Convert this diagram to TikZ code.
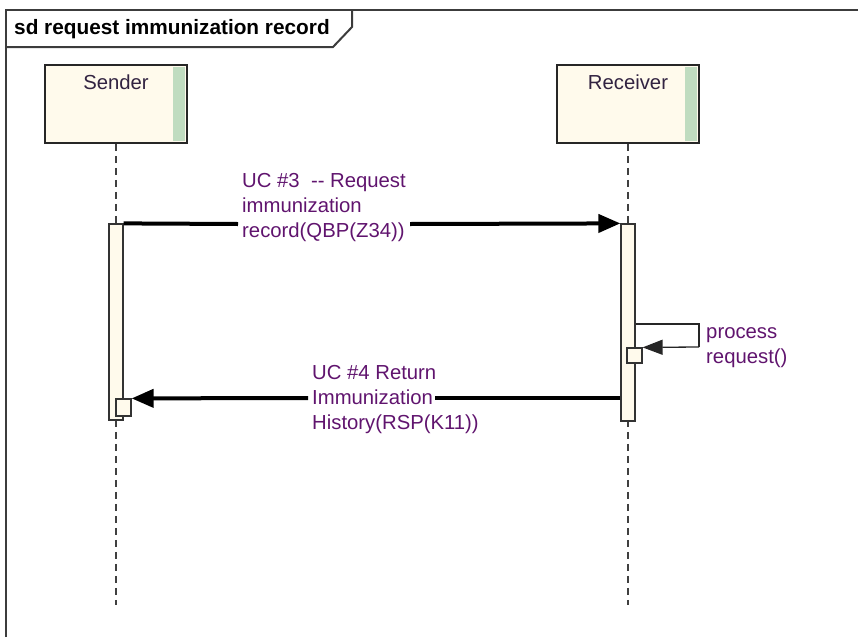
\documentclass[tikz,border=0pt]{standalone}
\usepackage{fontspec}
\setmainfont{Liberation Sans}
\usetikzlibrary{arrows.meta}
\definecolor{cream}{RGB}{255,250,236}
\definecolor{barg}{RGB}{192,220,192}
\definecolor{msgtext}{RGB}{96,20,110}
\definecolor{nametext}{RGB}{50,35,65}
\definecolor{framec}{RGB}{60,60,60}
\tikzset{
  headbox/.style={draw=black!85, line width=1.6pt, fill=cream, minimum width=142pt, minimum height=78pt, inner sep=0pt},
  headname/.style={anchor=north, text=nametext, inner sep=0pt},
  actbox/.style={draw=black!80, line width=1.2pt, fill=cream, minimum width=14pt, inner sep=0pt},
  nestbox/.style={draw=black!80, line width=1.2pt, fill=cream, minimum width=15pt, inner sep=0pt},
  lifeline/.style={draw=black!75, line width=1.5pt, dash pattern=on 7pt off 5pt},
  msgline/.style={draw=black, line width=4pt},
  msgtip/.style={-{Triangle[length=22pt,width=18pt]}},
  selfline/.style={draw=black!85, line width=1.3pt},
  selftip/.style={-{Triangle[length=20pt,width=15pt]}},
  msglabel/.style={text=msgtext, align=left, inner sep=0pt, anchor=west},
  framel/.style={draw=framec, line width=2pt},
}
\begin{document}
\begin{tikzpicture}[x=1pt,y=-1pt, font=\fontsize{20.3}{25}\selectfont]
\useasboundingbox (0,0) rectangle (858,637);
% frame
\draw[framel] (6,637) -- (6,10) -- (858,10);
\draw[framel] (6,47) -- (333,47) -- (352,27) -- (352,10);
\node[anchor=west, inner sep=0pt, font=\fontsize{20.8}{25}\selectfont\bfseries] (title) at (14,29) {sd request immunization record};
% lifelines
\node[headbox] (sender) at (116,104) {};
\node[headbox] (receiver) at (628,104) {};
\fill[barg] ([xshift=-15pt,yshift=-3pt]sender.north east) rectangle ([xshift=-3pt,yshift=3pt]sender.south east);
\fill[barg] ([xshift=-15pt,yshift=-3pt]receiver.north east) rectangle ([xshift=-3pt,yshift=3pt]receiver.south east);
\node[headname] (sname) at ([yshift=-10pt]sender.north) {Sender};
\node[headname] (rname) at ([yshift=-10pt]receiver.north) {Receiver};
\coordinate (send) at (116,605);
\coordinate (rend) at (628,605);
\draw[lifeline] (sender.south) -- (send);
\draw[lifeline] (receiver.south) -- (rend);
% activations
\node[actbox, minimum height=196pt] (sa) at (116,322) {};
\node[actbox, minimum height=197pt] (ra) at (628,322.5) {};
\node[nestbox, minimum height=17pt] (sb) at (123.5,407.5) {};
\node[nestbox, minimum height=15pt] (rb) at (634.5,355.5) {};
% message 1
\coordinate (m1a) at (238,224);
\coordinate (m1b) at (410,224);
\draw[msgline] (sa.north east) -- (m1a);
\draw[msgline, msgtip] (m1b) -- (ra.north west);
\node[msglabel] (l1) at (242,208) {UC \#3\ \ -{}- Request\\immunization\\record(QBP(Z34))};
% self message
\coordinate (s1) at (699,324);
\coordinate (s2) at (699,347);
\draw[selfline] (ra.east |- s1) -- (s1) -- (s2);
\draw[selfline, selftip] (s2) -- (rb.north east);
\node[msglabel] (l3) at (706,348) {process\\request()};
% message 2
\coordinate (m2a) at (435,398);
\coordinate (m2b) at (308,398);
\draw[msgline] (ra.west |- m2a) -- (m2a);
\draw[msgline, msgtip] (m2b) -- (sb.north east);
\node[msglabel] (l2) at (312,400) {UC \#4 Return\\Immunization\\History(RSP(K11))};
\end{tikzpicture}
\end{document}
